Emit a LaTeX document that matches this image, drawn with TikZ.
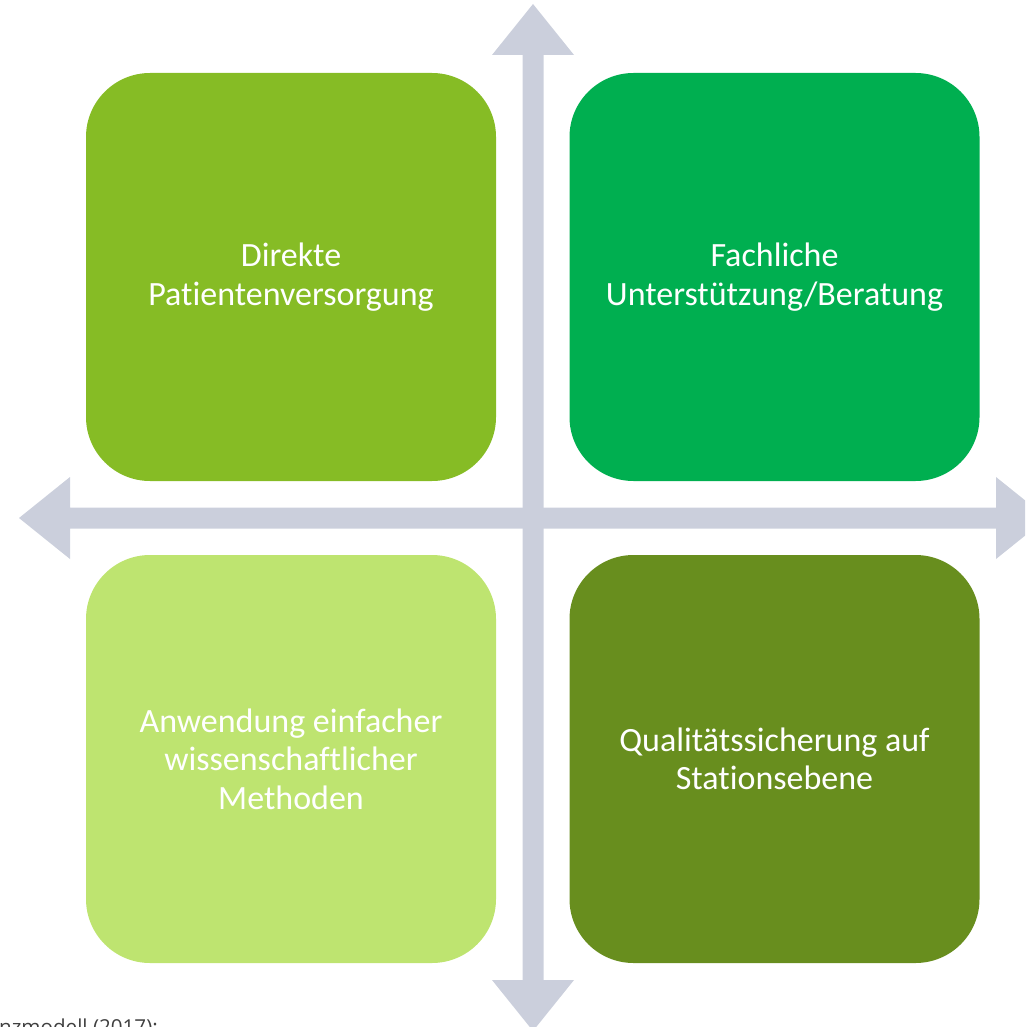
\documentclass[tikz,border=0pt]{standalone}
\usepackage{fontspec}
\setmainfont{Carlito}[Ligatures=NoCommon]
\newfontfamily\notefont{Open Sans}
\definecolor{qTL}{HTML}{86BC25}
\definecolor{qTR}{HTML}{00AF50}
\definecolor{qBL}{HTML}{BEE470}
\definecolor{qBR}{HTML}{688E1E}
\definecolor{axisgray}{HTML}{CBCFDC}
\definecolor{notegray}{HTML}{404040}
\begin{document}
\begin{tikzpicture}[x=1pt,y=-1pt,
  quad/.style={rectangle, rounded corners=64pt, minimum width=410pt, minimum height=408pt,
    inner sep=0pt, text=white, align=center, font=\fontsize{34}{38.5}\selectfont},
  axisshape/.style={fill=axisgray, draw=none},
  note/.style={inner sep=0pt, anchor=base west, text=notegray, font=\notefont\fontsize{20.6}{24}\selectfont}]
\useasboundingbox (0,0) rectangle (1025,1027);
\clip (0,0) rectangle (1025,1027);
% vertical double arrow
\path[axisshape] (522.5,55) -- (492,55) -- (533,4) -- (574,55) -- (543.5,55)
  -- (543.5,980) -- (574,980) -- (533,1031) -- (492,980) -- (522.5,980) -- cycle;
% horizontal double arrow
\path[axisshape] (70,507.5) -- (70,477) -- (19,518) -- (70,559) -- (70,528.5)
  -- (996,528.5) -- (996,559) -- (1047,518) -- (996,477) -- (996,507.5) -- cycle;
% quadrants
\node[quad, fill=qTL] (tl) at (291,277) {Direkte\\Patientenversorgung};
\node[quad, fill=qTR] (tr) at (774.5,277) {Fachliche\\Unterstützung/Beratung};
\node[quad, fill=qBL] (bl) at (291,759) {Anwendung einfacher\\wissenschaftlicher\\Methoden};
\node[quad, fill=qBR] (br) at (774.5,759) {Qualitätssicherung auf\\Stationsebene};
% cut-off caption
\node[note] (cap) at (-1,1034) {nzmodell (2017):};
\end{tikzpicture}
\end{document}
